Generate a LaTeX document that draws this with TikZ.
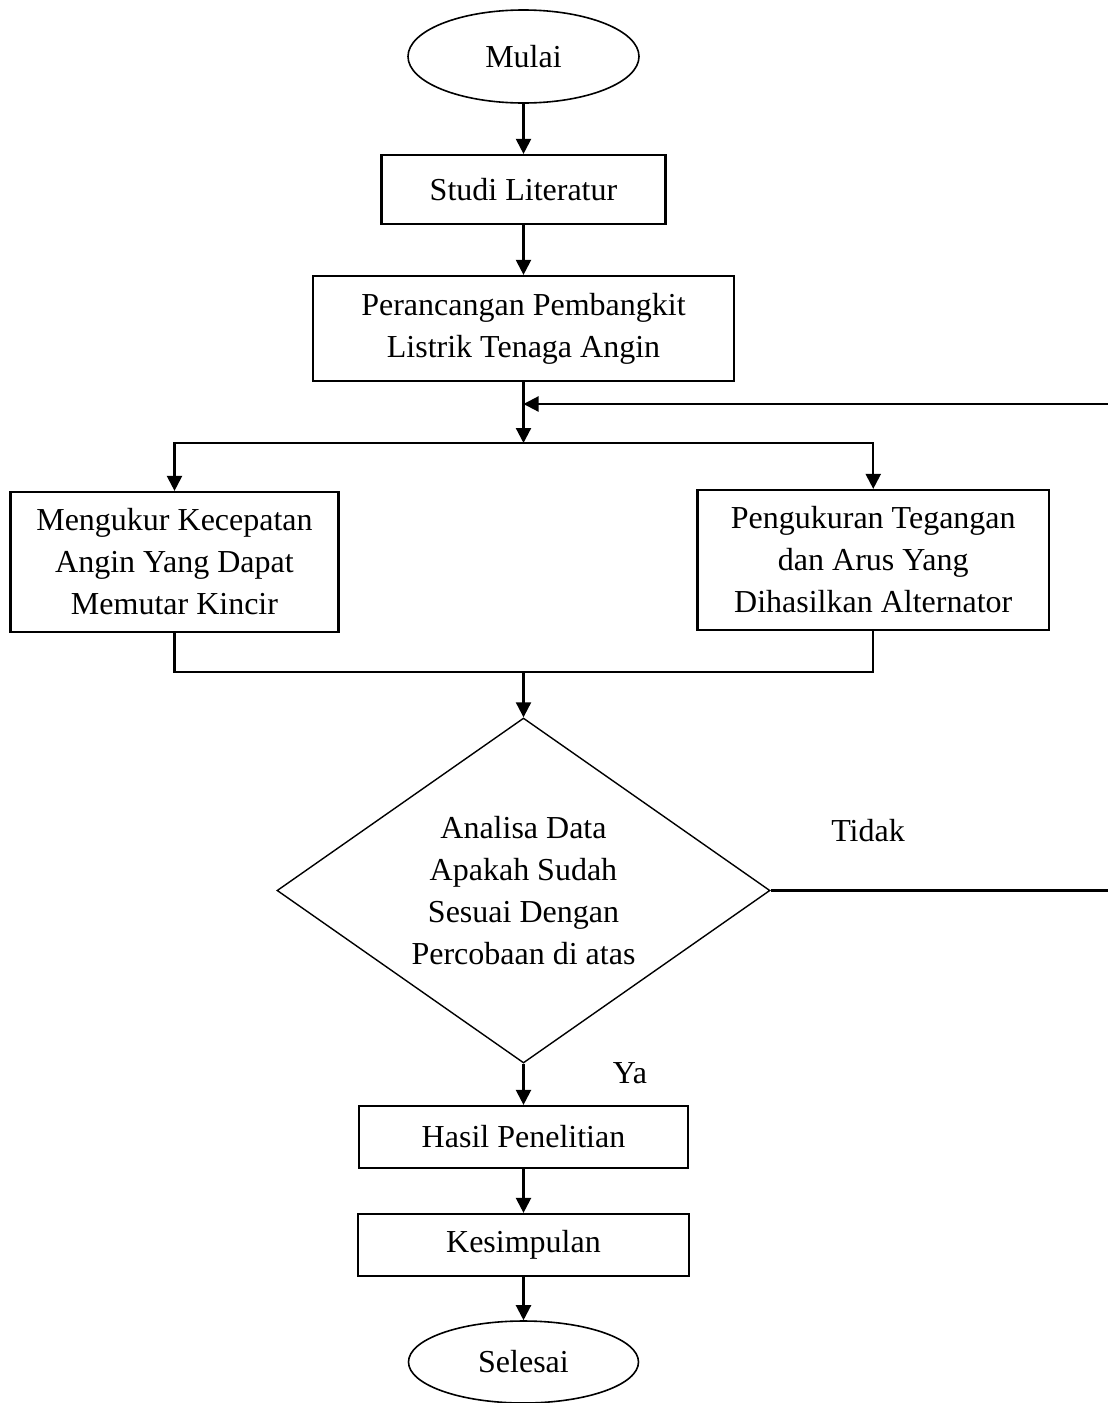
\documentclass[tikz,border=0pt]{standalone}
\usepackage{fontspec}
\setmainfont{Liberation Serif}
\usetikzlibrary{arrows.meta,shapes.geometric}
\begin{document}
\begin{tikzpicture}[x=0.5pt,y=-0.5pt,
  txt/.style={font=\fontsize{16}{21}\selectfont},
  procbox/.style={draw,line width=1.1pt,align=center,inner sep=0pt,txt},
  termnode/.style={draw,ellipse,line width=0.8pt,inner sep=0pt,txt},
  decnode/.style={draw,diamond,line width=0.7pt,inner sep=0pt,aspect=1.43,align=center,txt},
  conn/.style={line width=1.1pt},
  arr/.style={conn,-{Triangle[length=7.5pt,width=7.5pt]}},
  lbl/.style={txt,inner sep=0pt}]
\useasboundingbox (0,0) rectangle (1108,1403);

\node[termnode,minimum width=115.5pt,minimum height=46.5pt] (mulai) at (523.5,56.5) {Mulai};
\node[procbox,minimum width=142pt,minimum height=34.5pt] (studi) at (523.5,189.5) {Studi Literatur};
\node[procbox,minimum width=210.5pt,minimum height=52.5pt] (rancang) at (523.5,328.5) {Perancangan Pembangkit\\Listrik Tenaga Angin};
\node[procbox,minimum width=164pt,minimum height=70pt] (ukurangin) at (174.5,562) {Mengukur Kecepatan\\Angin Yang Dapat\\Memutar Kincir};
\node[procbox,minimum width=175.75pt,minimum height=70pt] (ukurtegangan) at (873.25,560) {Pengukuran Tegangan\\dan Arus Yang\\Dihasilkan Alternator};
\node[decnode,minimum width=246.5pt,minimum height=172.5pt] (analisa) at (523.5,890.5) {Analisa Data\\Apakah Sudah\\Sesuai Dengan\\Percobaan di atas};
\node[procbox,minimum width=164.5pt,minimum height=31pt] (hasil) at (523.5,1137) {Hasil Penelitian};
\node[procbox,minimum width=165.5pt,minimum height=31pt] (kesimpulan) at (523.5,1245) {Kesimpulan};
\node[termnode,minimum width=115pt,minimum height=41pt] (selesai) at (523.5,1362) {Selesai};

\node[lbl] (tidak) at (868,831) {Tidak};
\node[lbl] (ya) at (630,1073) {Ya};

\coordinate (j1) at (523.5,443);
\coordinate (j2) at (523.5,672);
\coordinate (fbin) at (523.5,404);
\coordinate (fbedge) at (1108,404);
\coordinate (noedge) at (1108,890.5);

\draw[arr] (mulai) -- (studi);
\draw[arr] (studi) -- (rancang);
\draw[arr] (rancang) -- (j1);
\draw[arr] (fbedge) -- (fbin);
\draw[arr] (j1) -| (ukurangin.north);
\draw[arr] (j1) -| (ukurtegangan.north);
\draw[conn] (ukurangin.south) |- (j2);
\draw[conn] (ukurtegangan.south) |- (j2);
\draw[arr] (j2) -- (analisa.north);
\draw[conn] (analisa.east) -- (noedge);
\draw[arr] (analisa.south) -- (hasil);
\draw[arr] (hasil) -- (kesimpulan);
\draw[arr] (kesimpulan) -- (selesai);
\end{tikzpicture}
\end{document}
